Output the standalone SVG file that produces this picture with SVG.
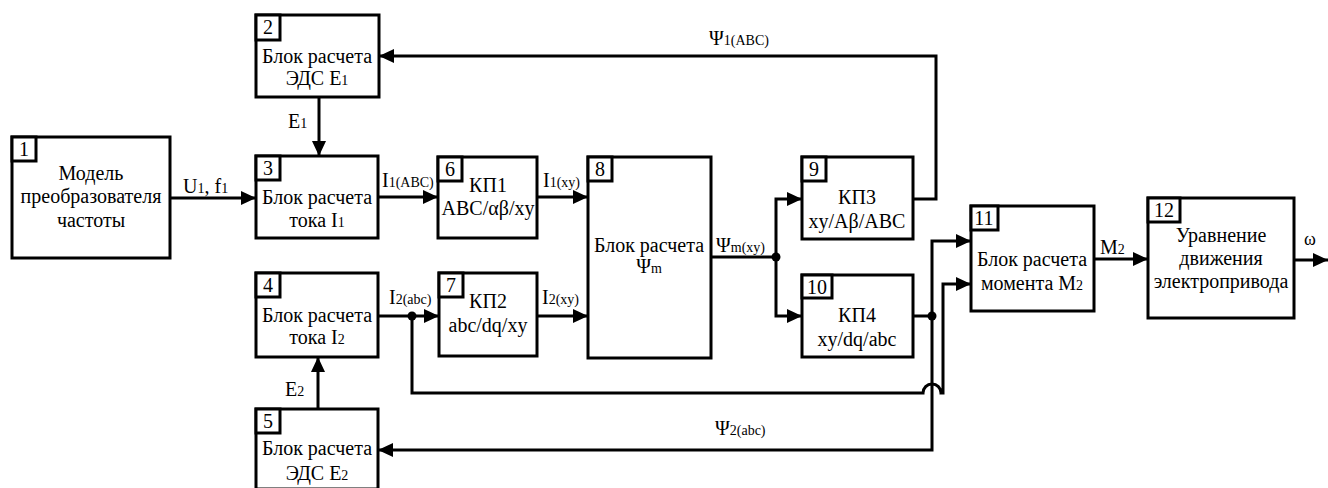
<svg xmlns="http://www.w3.org/2000/svg" width="1328" height="488" viewBox="0 0 1328 488">
<defs>
<marker id="arr" markerWidth="15" markerHeight="14" refX="15" refY="7" orient="auto" markerUnits="userSpaceOnUse">
<path d="M0,0 L15,7 L0,14 Z" fill="#000"/>
</marker>
<style>
.box{fill:#fff;stroke:#000;stroke-width:3}
.num{fill:#fff;stroke:#000;stroke-width:3}
text{font-family:"Liberation Serif", "Times New Roman", serif;font-size:20px;fill:#000}
.s{font-size:14px}
.o{font-size:18px}
.w{fill:none;stroke:#000;stroke-width:3}
.a{fill:none;stroke:#000;stroke-width:3;marker-end:url(#arr)}
</style>
</defs>
<rect width="1328" height="488" fill="#fff"/>

<g id="connectors">
<path class="a" d="M170,198 H256"/>
<path class="a" d="M319,97 V156"/>
<path class="a" d="M318,409 V357"/>
<path class="a" d="M378,197 H438"/>
<path class="a" d="M537,197 H588"/>
<path class="a" d="M378,316 H439"/>
<path class="a" d="M537,316 H588"/>
<path class="w" d="M711,257 H776"/>
<path class="a" d="M776,257 V199 H802"/>
<path class="a" d="M776,257 V316 H802"/>
<path class="a" d="M913,199 H936 V56 H379"/>
<path class="a" d="M913,316 H932 V241 H971"/>
<path class="a" d="M932,316 V450 H378"/>
<path class="a" d="M412,316 V393 H923 A9,9 0 0 1 941,393 H943 V284 H971"/>
<path class="a" d="M1094,259 H1148"/>
<path class="a" d="M1294,260 H1328"/>
<circle cx="412" cy="316" r="4.5"/>
<circle cx="776" cy="257" r="4.5"/>
<circle cx="932" cy="316" r="4.5"/>
<text x="183" y="193">U<tspan class="s">1</tspan>, f<tspan class="s">1</tspan></text>
<text x="288" y="128">E<tspan class="s">1</tspan></text>
<text x="285" y="396">E<tspan class="s">2</tspan></text>
<text x="382" y="187">I<tspan class="s">1(ABC)</tspan></text>
<text x="543" y="187">I<tspan class="s">1(xy)</tspan></text>
<text x="389" y="304">I<tspan class="s">2(abc)</tspan></text>
<text x="542" y="304">I<tspan class="s">2(xy)</tspan></text>
<text x="716" y="252">Ψ<tspan class="s">m(xy)</tspan></text>
<text x="709" y="45">Ψ<tspan class="s">1(ABC)</tspan></text>
<text x="715" y="435">Ψ<tspan class="s">2(abc)</tspan></text>
<text x="1100" y="254">M<tspan class="s">2</tspan></text>
<text x="1304" y="245" class="o">ω</text>
</g>

<g id="n1" text-anchor="middle">
<rect class="box" x="12" y="137" width="158" height="121"/>
<rect class="num" x="12" y="137" width="24" height="24"/>
<text x="24" y="156">1</text>
<text x="91" y="180">Модель</text>
<text x="91" y="203">преобразователя</text>
<text x="91" y="227">частоты</text>
</g>

<g id="n2" text-anchor="middle">
<rect class="box" x="256" y="15" width="123" height="82"/>
<rect class="num" x="256" y="15" width="24" height="25"/>
<text x="268" y="34">2</text>
<text x="317" y="63">Блок расчета</text>
<text x="317" y="85">ЭДС E<tspan class="s">1</tspan></text>
</g>

<g id="n3" text-anchor="middle">
<rect class="box" x="256" y="156" width="122" height="82"/>
<rect class="num" x="256" y="156" width="24" height="24"/>
<text x="268" y="175">3</text>
<text x="317" y="204">Блок расчета</text>
<text x="317" y="227">тока I<tspan class="s">1</tspan></text>
</g>

<g id="n4" text-anchor="middle">
<rect class="box" x="256" y="273" width="122" height="84"/>
<rect class="num" x="256" y="273" width="24" height="24"/>
<text x="268" y="292">4</text>
<text x="317" y="322">Блок расчета</text>
<text x="317" y="344">тока I<tspan class="s">2</tspan></text>
</g>

<g id="n5" text-anchor="middle">
<rect class="box" x="256" y="409" width="122" height="80"/>
<rect class="num" x="256" y="409" width="24" height="24"/>
<text x="268" y="428">5</text>
<text x="317" y="455">Блок расчета</text>
<text x="317" y="480">ЭДС E<tspan class="s">2</tspan></text>
</g>

<g id="n6" text-anchor="middle">
<rect class="box" x="438" y="157" width="99" height="81"/>
<rect class="num" x="438" y="157" width="24" height="24"/>
<text x="450" y="176">6</text>
<text x="488" y="192">КП1</text>
<text x="488" y="215">ABC/αβ/xy</text>
</g>

<g id="n7" text-anchor="middle">
<rect class="box" x="439" y="273" width="98" height="83"/>
<rect class="num" x="439" y="273" width="24" height="24"/>
<text x="451" y="292">7</text>
<text x="488" y="308">КП2</text>
<text x="488" y="332">abc/dq/xy</text>
</g>

<g id="n8" text-anchor="middle">
<rect class="box" x="588" y="157" width="123" height="201"/>
<rect class="num" x="588" y="157" width="24" height="24"/>
<text x="600" y="176">8</text>
<text x="649" y="252">Блок расчета</text>
<text x="649" y="273">Ψ<tspan class="s">m</tspan></text>
</g>

<g id="n9" text-anchor="middle">
<rect class="box" x="802" y="157" width="111" height="82"/>
<rect class="num" x="802" y="157" width="24" height="24"/>
<text x="814" y="176">9</text>
<text x="857" y="204">КП3</text>
<text x="857" y="228">xy/Aβ/ABC</text>
</g>

<g id="n10" text-anchor="middle">
<rect class="box" x="802" y="275" width="111" height="82"/>
<rect class="num" x="802" y="275" width="30" height="23"/>
<text x="817" y="294">10</text>
<text x="857" y="322">КП4</text>
<text x="857" y="346">xy/dq/abc</text>
</g>

<g id="n11" text-anchor="middle">
<rect class="box" x="971" y="206" width="123" height="105"/>
<rect class="num" x="971" y="206" width="27" height="24"/>
<text x="984" y="225">11</text>
<text x="1032" y="266">Блок расчета</text>
<text x="1032" y="290">момента M<tspan class="s">2</tspan></text>
</g>

<g id="n12" text-anchor="middle">
<rect class="box" x="1148" y="198" width="146" height="120"/>
<rect class="num" x="1148" y="198" width="32" height="24"/>
<text x="1164" y="217">12</text>
<text x="1221" y="242">Уравнение</text>
<text x="1221" y="265">движения</text>
<text x="1221" y="288">электропривода</text>
</g>
</svg>
